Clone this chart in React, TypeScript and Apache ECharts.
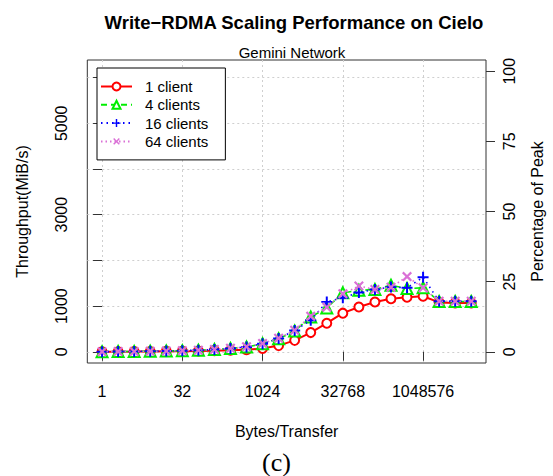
import React, { useEffect, useRef } from "react";
import * as echarts from "echarts";

// x = log2(bytes per transfer)
const exponents = [0, 1, 2, 3, 4, 5, 6, 7, 8, 9, 10, 11, 12, 13, 14, 15, 16, 17, 18, 19, 20, 21, 22, 23];
const xTickExps = [0, 5, 10, 15, 20];
const yTicks = [0, 1000, 2000, 3000, 4000, 5000, 6000];
const yLabelTicks = [0, 1000, 3000, 5000];
const pctTicks = [0, 25, 50, 75, 100];
const peak = 6140;

const client1 = [1, 2, 4, 7, 10, 13, 18, 25, 32, 45, 72, 135, 250, 420, 625, 845, 980, 1090, 1162, 1192, 1215, 1080, 1070, 1068];
const clients4 = [3, 5, 8, 12, 18, 25, 35, 50, 72, 105, 175, 285, 455, 760, 960, 1290, 1345, 1365, 1455, 1385, 1400, 1100, 1100, 1100];
const clients16 = [3, 5, 8, 12, 18, 25, 35, 50, 72, 105, 178, 290, 466, 688, 1092, 1182, 1295, 1365, 1415, 1400, 1632, 1105, 1105, 1105];
const clients64 = [3, 5, 8, 12, 18, 25, 35, 52, 76, 110, 182, 295, 470, 780, 975, 1270, 1438, 1365, 1410, 1645, 1400, 1105, 1105, 1105];

const FONT = "'Liberation Sans', Arial, Helvetica, sans-serif";
const PLUS = "path://M4.1,0H5.9V4.1H10V5.9H5.9V10H4.1V5.9H0V4.1H4.1Z";

function pairs(vals: number[]) {
  return exponents.map((e, i) => [e, vals[i]]);
}

export default function App() {
  const ref = useRef<HTMLDivElement>(null);
  useEffect(() => {
    if (!ref.current) return;
    const chart = echarts.init(ref.current, null, { renderer: "svg" });
    const gridLine = { show: true, lineStyle: { color: "#cfcfcf", type: [2, 3] as any, width: 1 } };
    chart.setOption({
      animation: false,
      backgroundColor: "#fff",
      textStyle: { fontFamily: FONT },
      title: [
        {
          text: "Write\u2212RDMA Scaling Performance on Cielo",
          left: 289,
          top: 8,
          textAlign: "center",
          textStyle: { fontFamily: FONT, fontSize: 18.5, fontWeight: "bold", color: "#000" },
        },
        {
          text: "Gemini Network",
          left: 287,
          top: 40,
          textAlign: "center",
          textStyle: { fontFamily: FONT, fontSize: 15, fontWeight: "normal", color: "#000" },
        },
      ],
      grid: {
        left: 87.3,
        right: 66.3,
        top: 60,
        bottom: 113,
        show: true,
        borderColor: "#333",
        borderWidth: 1,
        backgroundColor: "transparent",
      },
      legend: {
        orient: "vertical",
        left: 97,
        top: 68,
        padding: [11, 17, 11, 3],
        itemGap: 3.3,
        itemWidth: 31,
        itemHeight: 10,
        borderColor: "#000",
        borderWidth: 1,
        backgroundColor: "#fff",
        textStyle: { fontFamily: FONT, fontSize: 15, color: "#000", padding: [0, 0, 0, 8] },
        data: ["1 client", "4 clients", "16 clients", "64 clients"],
      },
      xAxis: {
        type: "value",
        min: -0.92,
        max: 23.92,
        name: "Bytes/Transfer",
        nameLocation: "middle",
        nameGap: 60,
        nameTextStyle: { fontFamily: FONT, fontSize: 16, color: "#000" },
        axisLine: { show: false },
        axisTick: { show: true, length: 9, customValues: xTickExps, lineStyle: { color: "#333" } },
        axisLabel: {
          customValues: xTickExps,
          margin: 20,
          fontFamily: FONT,
          fontSize: 16,
          color: "#000",
          formatter: (v: number) => String(Math.pow(2, Math.round(v))),
        },
        splitLine: gridLine,
      },
      yAxis: [
        {
          type: "value",
          min: -0.04 * peak,
          max: 1.04 * peak,
          name: "Throughput(MiB/s)",
          nameLocation: "middle",
          nameGap: 57,
          nameRotate: 90,
          nameTextStyle: { fontFamily: FONT, fontSize: 16, color: "#000" },
          axisLine: { show: false },
          axisTick: { show: true, length: 9, customValues: yTicks, lineStyle: { color: "#333" } },
          axisLabel: {
            customValues: yLabelTicks,
            rotate: 90,
            margin: 18,
            fontFamily: FONT,
            fontSize: 16,
            color: "#000",
            formatter: (v: number) => String(Math.round(v)),
          },
          splitLine: gridLine,
        },
        {
          type: "value",
          position: "right",
          min: -4,
          max: 104,
          name: "Percentage of Peak",
          nameLocation: "middle",
          nameGap: 43,
          nameRotate: 90,
          nameTextStyle: { fontFamily: FONT, fontSize: 16, color: "#000" },
          axisLine: { show: false },
          axisTick: { show: true, length: 9, customValues: pctTicks, lineStyle: { color: "#333" } },
          axisLabel: {
            customValues: pctTicks,
            rotate: 90,
            margin: 15,
            fontFamily: FONT,
            fontSize: 16,
            color: "#000",
            formatter: (v: number) => String(Math.round(v)),
          },
          splitLine: { show: false },
        },
      ],
      series: [
        {
          name: "1 client",
          type: "line",
          data: pairs(client1),
          symbol: "emptyCircle",
          symbolSize: 9,
          lineStyle: { color: "#ff0000", width: 2 },
          itemStyle: { color: "#ff0000", borderWidth: 1.6 },
          z: 2,
        },
        {
          name: "4 clients",
          type: "line",
          data: pairs(clients4),
          symbol: "emptyTriangle",
          symbolSize: 11,
          lineStyle: { color: "#00ee00", width: 1.6, type: [6, 4] },
          itemStyle: { color: "#00ee00", borderWidth: 1.6 },
          z: 3,
        },
        {
          name: "16 clients",
          type: "line",
          data: pairs(clients16),
          symbol: PLUS,
          symbolSize: 11,
          lineStyle: { color: "#0000ff", width: 1.6, type: [1.5, 4] },
          itemStyle: { color: "#0000ff" },
          z: 4,
        },
        {
          name: "64 clients",
          type: "line",
          data: pairs(clients64),
          symbol: PLUS,
          symbolSize: 12,
          symbolRotate: 45,
          lineStyle: { color: "#da70d6", width: 1.6, type: [1.5, 3] },
          itemStyle: { color: "#da70d6" },
          z: 5,
        },
      ],
      graphic: [
        {
          type: "text",
          left: 262,
          top: 449,
          style: {
            text: "(c)",
            fontFamily: "'Liberation Serif', 'Times New Roman', serif",
            fontSize: 26,
            fill: "#000",
          },
        },
      ],
    });
    return () => chart.dispose();
  }, []);
  return <div ref={ref} style={{ width: 553, height: 476, position: "absolute", left: 0, top: 0 }} />;
}
